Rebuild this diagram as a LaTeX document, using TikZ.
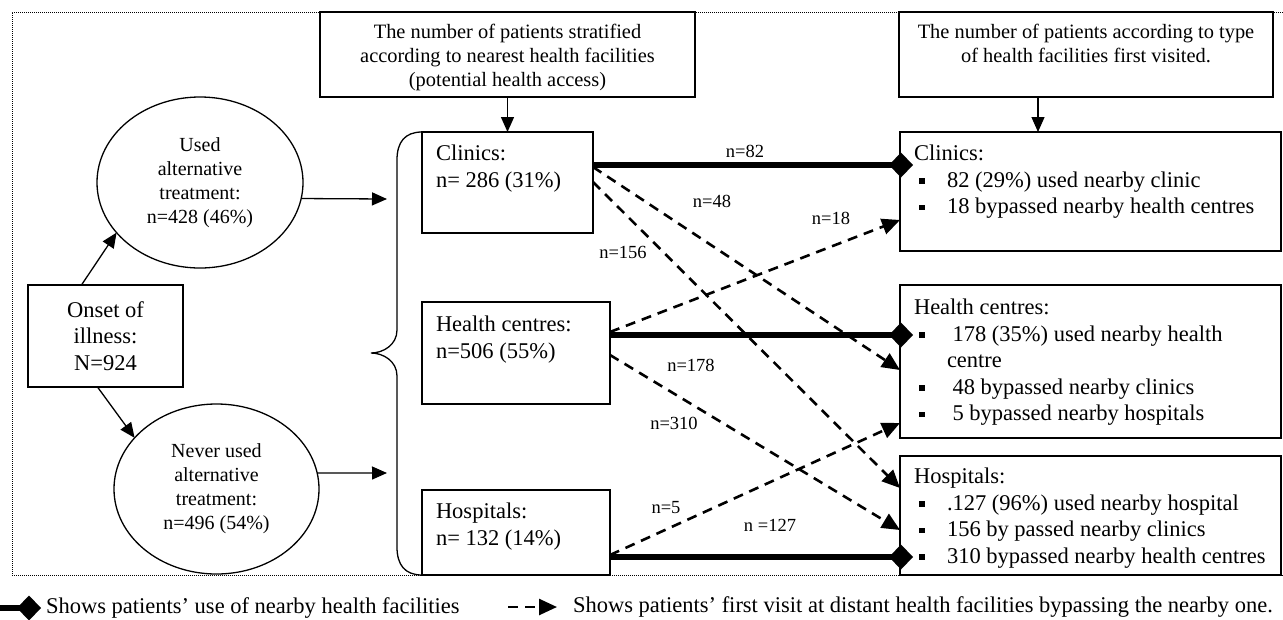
\documentclass[tikz,border=0pt]{standalone}
\usepackage{fontspec}
\setmainfont{Liberation Serif}
\usetikzlibrary{arrows.meta,shapes.geometric,calc}

\newcommand{\boxfont}{\fontsize{22.5}{26.5}\selectfont}
\newcommand{\ovalfont}{\fontsize{20}{24}\selectfont}
\newcommand{\headfont}{\fontsize{20.4}{24}\selectfont}
\newcommand{\nfont}{\fontsize{18.5}{22}\selectfont}
\newcommand{\sqb}{\makebox[33pt][l]{\hspace{5pt}\rule[3.5pt]{5.5pt}{5.5pt}}}

\begin{document}
\begin{tikzpicture}[x=1pt, y=-1pt,
    every node/.style={inner sep=0pt, outer sep=0pt},
    box/.style={draw, line width=1.3pt, anchor=north west},
    oval/.style={draw, ellipse, line width=1.3pt, align=center, font=\ovalfont},
    txt/.style={anchor=north west, align=left, font=\boxfont},
    head/.style={anchor=north, align=center, font=\headfont},
    nlab/.style={font=\nfont},
    tip/.style={-{Triangle[length=15pt,width=13pt]}, line width=1.3pt},
    near/.style={-{Diamond[length=24pt,width=25pt]}, line width=6pt, shorten >=-13pt},
    far/.style={-{Triangle[length=18pt,width=16pt]}, line width=2.6pt, dash pattern=on 10pt off 7pt},
    frame/.style={line width=0.8pt, dash pattern=on 1pt off 1pt}]
  \useasboundingbox (0,0) rectangle (1283,619);

  % dotted frame
  \draw[frame] (1283,12) -- (12,12) -- (12,575) -- (1283,575);

  % headers
  \node[box, minimum width=375pt, minimum height=85pt] (tl) at (320,12) {};
  \node[head] (tlt) at ($(tl.north)+(0,10)$) {\strut The number of patients stratified\\ according to nearest health facilities\\ (potential health access)};
  \node[box, minimum width=374pt, minimum height=85pt] (tr) at (899,12) {};
  \node[head] (trt) at ($(tr.north)+(0,10)$) {\strut The number of patients according to type\\ of health facilities first visited.};

  % onset and treatment groups
  \node[box, minimum width=155pt, minimum height=102pt, align=center, font=\boxfont] (onset) at (28,285) {Onset of\\ illness:\\ N=924};
  \node[oval, minimum width=206pt, minimum height=171pt] (used) at (200,182.5) {Used\\ alternative\\ treatment:\\ n=428 (46\%)};
  \node[oval, minimum width=205pt, minimum height=170pt] (never) at (216.5,489) {Never used\\ alternative\\ treatment:\\ n=496 (54\%)};

  % nearest facilities
  \node[box, minimum width=171pt, minimum height=101pt] (clin) at (422,132) {};
  \node[txt] (clint) at (436,142) {\strut Clinics:\\ n= 286 (31\%)};
  \node[box, minimum width=188pt, minimum height=102pt] (hc) at (422,302) {};
  \node[txt] (hct) at (436,313) {\strut Health centres:\\ n=506 (55\%)};
  \node[box, minimum width=188pt, minimum height=85pt] (hos) at (422,490) {};
  \node[txt] (host) at (436,500) {\strut Hospitals:\\ n= 132 (14\%)};

  % facilities first visited
  \node[box, minimum width=381pt, minimum height=119pt] (rclin) at (900,132) {};
  \node[txt] (rclint) at (914,142) {\strut Clinics:\\ \sqb 82 (29\%) used nearby clinic\\ \sqb 18 bypassed nearby health centres};
  \node[box, minimum width=381pt, minimum height=153pt] (rhc) at (900,285) {};
  \node[txt] (rhct) at (914,296) {\strut Health centres:\\ \sqb\ 178 (35\%) used nearby health\\ \hspace*{33pt}centre\\ \sqb\ 48 bypassed nearby clinics\\ \sqb\ 5 bypassed nearby hospitals};
  \node[box, minimum width=381pt, minimum height=119pt] (rhos) at (900,456) {};
  \node[txt] (rhost) at (914,465) {\strut Hospitals:\\ \sqb .127 (96\%) used nearby hospital\\ \sqb 156 by passed nearby clinics\\ \sqb 310 bypassed nearby health centres};

  % brace
  \draw[line width=1.3pt] (clin.north west) .. controls +(-17,0) and +(0,-18) .. ++(-25,28)
    -- ++(0,170) .. controls +(0,15) and +(12,0) .. ++(-26,23)
    .. controls +(12,0) and +(0,-15) .. ++(26,23)
    -- ++(0,171) .. controls +(0,18) and +(-17,0) .. (hos.south west);

  % arrows
  \coordinate (ubr) at (387,199);
  \coordinate (nbr) at (387,473);
  \coordinate (trout) at ($(tr.south)+(-48,0)$);
  \draw[tip] ($(onset.north)+(-24,0)$) -- (used.211);
  \draw[tip] ($(onset.south)+(-8,0)$) -- (never.148);
  \draw[tip] (used.-9.5) -- (ubr);
  \draw[tip] (never.9.3) -- (nbr);
  \draw[tip] (tl.south) -- (tl.south |- clin.north);
  \draw[tip] (trout) -- (trout |- rclin.north);

  % nearby use
  \draw[near] ($(clin.north east)+(0,33)$) -- ($(rclin.north west)+(0,33)$);
  \draw[near] ($(hc.north east)+(0,33)$) -- ($(rhc.north west)+(0,50)$);
  \draw[near] ($(hos.north east)+(0,67)$) -- ($(rhos.north west)+(0,101)$);

  % bypassing
  \draw[far] ($(clin.north east)+(0,35)$) -- ($(rhc.north west)+(0,85)$);
  \draw[far] ($(clin.north east)+(0,50)$) -- ($(rhos.north west)+(0,32)$);
  \draw[far] ($(hc.north east)+(0,30)$) -- ($(rclin.north west)+(0,88)$);
  \draw[far] ($(hc.north east)+(0,53)$) -- ($(rhos.north west)+(0,74)$);
  \draw[far] ($(hos.north east)+(0,65)$) -- ($(rhc.north west)+(0,138)$);

  \node[nlab] (n82) at (745,151) {n=82};
  \node[nlab] (n48) at (712,201) {n=48};
  \node[nlab] (n18) at (831,218) {n=18};
  \node[nlab] (n156) at (623,252) {n=156};
  \node[nlab] (n178) at (691,365) {n=178};
  \node[nlab] (n310) at (674,423) {n=310};
  \node[nlab] (n5) at (666,508) {n=5};
  \node[nlab] (n127) at (770,525) {n =127};

  % legend
  \coordinate (lega) at (0,608);
  \coordinate (legb) at (508,607);
  \node[anchor=west, font=\boxfont] (legu) at (46,608) {Shows patients’ use of nearby health facilities};
  \node[anchor=west, font=\boxfont] (legd) at (573,607) {Shows patients’ first visit at distant health facilities bypassing the nearby one.};
  \draw[near, shorten >=5pt] (lega) -- (legu.west);
  \draw[far, shorten >=16pt] (legb) -- (legd.west);
\end{tikzpicture}
\end{document}
